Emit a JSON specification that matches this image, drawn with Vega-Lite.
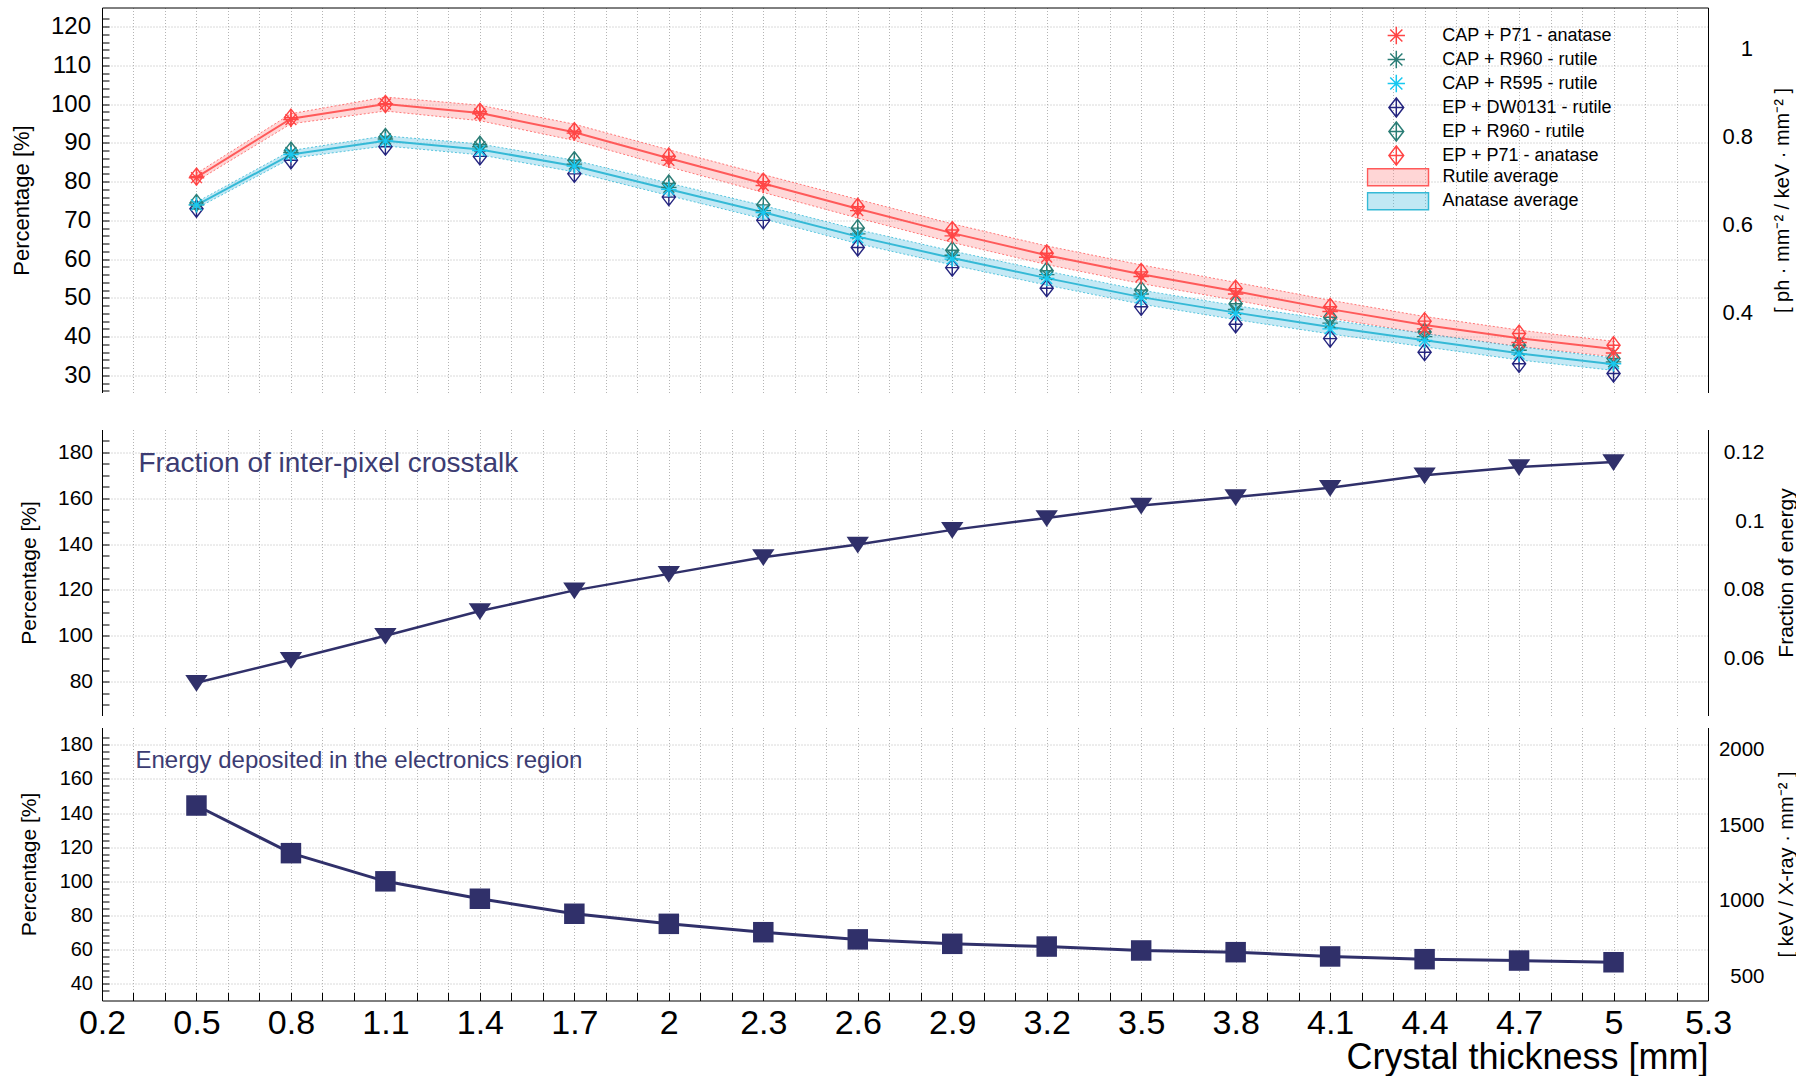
{
  "$schema": "https://vega.github.io/schema/vega-lite/v6.json",
  "background": "white",
  "padding": {"left": 10, "top": 6.5, "right": 0, "bottom": 0},
  "spacing": 12,
  "config": {
    "view": {"stroke": null},
    "font": "Liberation Sans",
    "axis": {"labelFont": "Liberation Sans", "titleFont": "Liberation Sans", "titleFontWeight": "normal", "labelColor": "black", "titleColor": "black", "domainColor": "black", "tickColor": "black", "gridColor": "#b4b4b4", "gridDash": [1, 2], "gridWidth": 1, "labelOverlap": false, "labelBound": false, "labelFlush": false},
    "legend": {"labelFont": "Liberation Sans"}
  },
  "datasets": {
    "t1": [{"label": "Effective Luminescence efficiency"}],
    "t2": [{"label": "Fraction of inter-pixel crosstalk"}],
    "t3": [{"label": "Energy deposited in the electronics region"}],
    "lum": [
      {"x": 0.5, "s": "EP + DW0131 - rutile", "v": 73}, {"x": 0.8, "s": "EP + DW0131 - rutile", "v": 85.5}, {"x": 1.1, "s": "EP + DW0131 - rutile", "v": 89}, {"x": 1.4, "s": "EP + DW0131 - rutile", "v": 86.5}, {"x": 1.7, "s": "EP + DW0131 - rutile", "v": 82}, {"x": 2.0, "s": "EP + DW0131 - rutile", "v": 76}, {"x": 2.3, "s": "EP + DW0131 - rutile", "v": 70}, {"x": 2.6, "s": "EP + DW0131 - rutile", "v": 63}, {"x": 2.9, "s": "EP + DW0131 - rutile", "v": 57.8}, {"x": 3.2, "s": "EP + DW0131 - rutile", "v": 52.5}, {"x": 3.5, "s": "EP + DW0131 - rutile", "v": 47.7}, {"x": 3.8, "s": "EP + DW0131 - rutile", "v": 43.2}, {"x": 4.1, "s": "EP + DW0131 - rutile", "v": 39.5}, {"x": 4.4, "s": "EP + DW0131 - rutile", "v": 36}, {"x": 4.7, "s": "EP + DW0131 - rutile", "v": 33}, {"x": 5.0, "s": "EP + DW0131 - rutile", "v": 30.5},
      {"x": 0.5, "s": "EP + R960 - rutile", "v": 74.5}, {"x": 0.8, "s": "EP + R960 - rutile", "v": 88}, {"x": 1.1, "s": "EP + R960 - rutile", "v": 91.5}, {"x": 1.4, "s": "EP + R960 - rutile", "v": 89.5}, {"x": 1.7, "s": "EP + R960 - rutile", "v": 85.5}, {"x": 2.0, "s": "EP + R960 - rutile", "v": 79.5}, {"x": 2.3, "s": "EP + R960 - rutile", "v": 74}, {"x": 2.6, "s": "EP + R960 - rutile", "v": 68}, {"x": 2.9, "s": "EP + R960 - rutile", "v": 62.3}, {"x": 3.2, "s": "EP + R960 - rutile", "v": 57}, {"x": 3.5, "s": "EP + R960 - rutile", "v": 52}, {"x": 3.8, "s": "EP + R960 - rutile", "v": 48.5}, {"x": 4.1, "s": "EP + R960 - rutile", "v": 45}, {"x": 4.4, "s": "EP + R960 - rutile", "v": 41.2}, {"x": 4.7, "s": "EP + R960 - rutile", "v": 37.8}, {"x": 5.0, "s": "EP + R960 - rutile", "v": 34.4},
      {"x": 0.5, "s": "EP + P71 - anatase", "v": 81.3}, {"x": 0.8, "s": "EP + P71 - anatase", "v": 96.5}, {"x": 1.1, "s": "EP + P71 - anatase", "v": 100}, {"x": 1.4, "s": "EP + P71 - anatase", "v": 98}, {"x": 1.7, "s": "EP + P71 - anatase", "v": 93}, {"x": 2.0, "s": "EP + P71 - anatase", "v": 86.5}, {"x": 2.3, "s": "EP + P71 - anatase", "v": 80}, {"x": 2.6, "s": "EP + P71 - anatase", "v": 73.5}, {"x": 2.9, "s": "EP + P71 - anatase", "v": 67.5}, {"x": 3.2, "s": "EP + P71 - anatase", "v": 61.5}, {"x": 3.5, "s": "EP + P71 - anatase", "v": 56.7}, {"x": 3.8, "s": "EP + P71 - anatase", "v": 52.4}, {"x": 4.1, "s": "EP + P71 - anatase", "v": 47.7}, {"x": 4.4, "s": "EP + P71 - anatase", "v": 44}, {"x": 4.7, "s": "EP + P71 - anatase", "v": 40.8}, {"x": 5.0, "s": "EP + P71 - anatase", "v": 37.8},
      {"x": 0.5, "s": "CAP + R960 - rutile", "v": 74}, {"x": 0.8, "s": "CAP + R960 - rutile", "v": 87.5}, {"x": 1.1, "s": "CAP + R960 - rutile", "v": 91}, {"x": 1.4, "s": "CAP + R960 - rutile", "v": 89}, {"x": 1.7, "s": "CAP + R960 - rutile", "v": 84.5}, {"x": 2.0, "s": "CAP + R960 - rutile", "v": 78.5}, {"x": 2.3, "s": "CAP + R960 - rutile", "v": 72.5}, {"x": 2.6, "s": "CAP + R960 - rutile", "v": 66.5}, {"x": 2.9, "s": "CAP + R960 - rutile", "v": 61}, {"x": 3.2, "s": "CAP + R960 - rutile", "v": 56}, {"x": 3.5, "s": "CAP + R960 - rutile", "v": 51}, {"x": 3.8, "s": "CAP + R960 - rutile", "v": 47}, {"x": 4.1, "s": "CAP + R960 - rutile", "v": 43.5}, {"x": 4.4, "s": "CAP + R960 - rutile", "v": 40}, {"x": 4.7, "s": "CAP + R960 - rutile", "v": 36.5}, {"x": 5.0, "s": "CAP + R960 - rutile", "v": 33.5},
      {"x": 0.5, "s": "CAP + R595 - rutile", "v": 74}, {"x": 0.8, "s": "CAP + R595 - rutile", "v": 87}, {"x": 1.1, "s": "CAP + R595 - rutile", "v": 90.5}, {"x": 1.4, "s": "CAP + R595 - rutile", "v": 88}, {"x": 1.7, "s": "CAP + R595 - rutile", "v": 84}, {"x": 2.0, "s": "CAP + R595 - rutile", "v": 78}, {"x": 2.3, "s": "CAP + R595 - rutile", "v": 72}, {"x": 2.6, "s": "CAP + R595 - rutile", "v": 65.5}, {"x": 2.9, "s": "CAP + R595 - rutile", "v": 60}, {"x": 3.2, "s": "CAP + R595 - rutile", "v": 55}, {"x": 3.5, "s": "CAP + R595 - rutile", "v": 50}, {"x": 3.8, "s": "CAP + R595 - rutile", "v": 46}, {"x": 4.1, "s": "CAP + R595 - rutile", "v": 42}, {"x": 4.4, "s": "CAP + R595 - rutile", "v": 39}, {"x": 4.7, "s": "CAP + R595 - rutile", "v": 35.5}, {"x": 5.0, "s": "CAP + R595 - rutile", "v": 33},
      {"x": 0.5, "s": "CAP + P71 - anatase", "v": 81}, {"x": 0.8, "s": "CAP + P71 - anatase", "v": 96}, {"x": 1.1, "s": "CAP + P71 - anatase", "v": 100}, {"x": 1.4, "s": "CAP + P71 - anatase", "v": 97.5}, {"x": 1.7, "s": "CAP + P71 - anatase", "v": 92.5}, {"x": 2.0, "s": "CAP + P71 - anatase", "v": 85.5}, {"x": 2.3, "s": "CAP + P71 - anatase", "v": 79}, {"x": 2.6, "s": "CAP + P71 - anatase", "v": 72.5}, {"x": 2.9, "s": "CAP + P71 - anatase", "v": 66}, {"x": 3.2, "s": "CAP + P71 - anatase", "v": 60.5}, {"x": 3.5, "s": "CAP + P71 - anatase", "v": 55.5}, {"x": 3.8, "s": "CAP + P71 - anatase", "v": 51}, {"x": 4.1, "s": "CAP + P71 - anatase", "v": 46.5}, {"x": 4.4, "s": "CAP + P71 - anatase", "v": 42}, {"x": 4.7, "s": "CAP + P71 - anatase", "v": 38.5}, {"x": 5.0, "s": "CAP + P71 - anatase", "v": 35.8}
    ],
    "band": [
      {"x": 0.5, "band": "Rutile average", "avg": 81.1, "lo": 80.1, "hi": 82.1}, {"x": 0.8, "band": "Rutile average", "avg": 96.2, "lo": 94.9, "hi": 97.5}, {"x": 1.1, "band": "Rutile average", "avg": 100, "lo": 98.2, "hi": 101.8}, {"x": 1.4, "band": "Rutile average", "avg": 97.7, "lo": 95.7, "hi": 99.7}, {"x": 1.7, "band": "Rutile average", "avg": 92.7, "lo": 90.6, "hi": 94.8}, {"x": 2.0, "band": "Rutile average", "avg": 86, "lo": 83.8, "hi": 88.2}, {"x": 2.3, "band": "Rutile average", "avg": 79.5, "lo": 77.2, "hi": 81.8}, {"x": 2.6, "band": "Rutile average", "avg": 73, "lo": 70.6, "hi": 75.4}, {"x": 2.9, "band": "Rutile average", "avg": 66.7, "lo": 64.3, "hi": 69.1}, {"x": 3.2, "band": "Rutile average", "avg": 61, "lo": 58.6, "hi": 63.4}, {"x": 3.5, "band": "Rutile average", "avg": 56.1, "lo": 53.7, "hi": 58.5}, {"x": 3.8, "band": "Rutile average", "avg": 51.7, "lo": 49.4, "hi": 54.0}, {"x": 4.1, "band": "Rutile average", "avg": 47.1, "lo": 44.8, "hi": 49.4}, {"x": 4.4, "band": "Rutile average", "avg": 43, "lo": 40.8, "hi": 45.2}, {"x": 4.7, "band": "Rutile average", "avg": 39.6, "lo": 37.5, "hi": 41.7}, {"x": 5.0, "band": "Rutile average", "avg": 36.8, "lo": 34.8, "hi": 38.8},
      {"x": 0.5, "band": "Anatase average", "avg": 73.9, "lo": 73.1, "hi": 74.7}, {"x": 0.8, "band": "Anatase average", "avg": 87, "lo": 86, "hi": 88}, {"x": 1.1, "band": "Anatase average", "avg": 90.5, "lo": 89.2, "hi": 91.8}, {"x": 1.4, "band": "Anatase average", "avg": 88.3, "lo": 86.9, "hi": 89.7}, {"x": 1.7, "band": "Anatase average", "avg": 84, "lo": 82.5, "hi": 85.5}, {"x": 2.0, "band": "Anatase average", "avg": 78, "lo": 76.4, "hi": 79.6}, {"x": 2.3, "band": "Anatase average", "avg": 72.1, "lo": 70.4, "hi": 73.8}, {"x": 2.6, "band": "Anatase average", "avg": 65.8, "lo": 64, "hi": 67.6}, {"x": 2.9, "band": "Anatase average", "avg": 60.3, "lo": 58.5, "hi": 62.1}, {"x": 3.2, "band": "Anatase average", "avg": 55.1, "lo": 53.3, "hi": 56.9}, {"x": 3.5, "band": "Anatase average", "avg": 50.2, "lo": 48.4, "hi": 52}, {"x": 3.8, "band": "Anatase average", "avg": 46.2, "lo": 44.4, "hi": 48}, {"x": 4.1, "band": "Anatase average", "avg": 42.5, "lo": 40.7, "hi": 44.3}, {"x": 4.4, "band": "Anatase average", "avg": 39.1, "lo": 37.4, "hi": 40.8}, {"x": 4.7, "band": "Anatase average", "avg": 35.7, "lo": 34, "hi": 37.4}, {"x": 5.0, "band": "Anatase average", "avg": 32.9, "lo": 31.3, "hi": 34.5}
    ],
    "xt": [
      {"x": 0.5, "pct": 79.5}, {"x": 0.8, "pct": 89.5}, {"x": 1.1, "pct": 100}, {"x": 1.4, "pct": 110.8}, {"x": 1.7, "pct": 119.8}, {"x": 2.0, "pct": 127}, {"x": 2.3, "pct": 134.3}, {"x": 2.6, "pct": 139.8}, {"x": 2.9, "pct": 146.2}, {"x": 3.2, "pct": 151.4}, {"x": 3.5, "pct": 156.8}, {"x": 3.8, "pct": 160.5}, {"x": 4.1, "pct": 164.6}, {"x": 4.4, "pct": 170}, {"x": 4.7, "pct": 173.6}, {"x": 5.0, "pct": 175.8}
    ],
    "edep": [
      {"x": 0.5, "pct": 144.4}, {"x": 0.8, "pct": 116.5}, {"x": 1.1, "pct": 100}, {"x": 1.4, "pct": 89.8}, {"x": 1.7, "pct": 81}, {"x": 2.0, "pct": 75.1}, {"x": 2.3, "pct": 70.2}, {"x": 2.6, "pct": 66}, {"x": 2.9, "pct": 63.4}, {"x": 3.2, "pct": 61.8}, {"x": 3.5, "pct": 59.5}, {"x": 3.8, "pct": 58.5}, {"x": 4.1, "pct": 56}, {"x": 4.4, "pct": 54.4}, {"x": 4.7, "pct": 53.6}, {"x": 5.0, "pct": 52.6}
    ]
  },
  "vconcat": [
    {
      "width": 1606,
      "height": 385,
      "encoding": {
        "x": {"field": "x", "type": "quantitative", "scale": {"domain": [0.2, 5.3], "nice": false, "zero": false},
          "axis": {"values": [0.2,0.3,0.4,0.5,0.6,0.7,0.8,0.9,1,1.1,1.2,1.3,1.4,1.5,1.6,1.7,1.8,1.9,2,2.1,2.2,2.3,2.4,2.5,2.6,2.7,2.8,2.9,3,3.1,3.2,3.3,3.4,3.5,3.6,3.7,3.8,3.9,4,4.1,4.2,4.3,4.4,4.5,4.6,4.7,4.8,4.9,5,5.1,5.2,5.3], "grid": true, "ticks": false, "domain": false, "labels": true, "labelExpr": "'0'", "labelColor": "transparent", "labelFontSize": 20, "labelPadding": 5, "title": null}}
      },
      "layer": [
        {
          "encoding": {
            "y": {"field": "v", "type": "quantitative", "scale": {"domain": [25.6, 124.9], "nice": false, "zero": false},
              "axis": {"values": [26,28,30,32,34,36,38,40,42,44,46,48,50,52,54,56,58,60,62,64,66,68,70,72,74,76,78,80,82,84,86,88,90,92,94,96,98,100,102,104,106,108,110,112,114,116,118,120,122], "format": "d", "labelExpr": "datum.value % 10 == 0 ? datum.label : ''", "labelFontSize": 24, "labelPadding": 18.5, "tickSize": -7, "grid": true, "gridOpacity": {"condition": {"test": "datum.value % 10 != 0", "value": 0}, "value": 1}, "title": "Percentage [%]", "titleFontSize": 22, "titleX": -80.5, "titleBaseline": "middle", "titleAngle": -90}}
          },
          "layer": [
            {
              "data": {"name": "band"},
              "mark": {"type": "area", "fillOpacity": 0.33},
              "encoding": {
                "y": {"field": "lo"},
                "y2": {"field": "hi"},
                "fill": {"field": "band", "type": "nominal", "scale": {"domain": ["Rutile average", "Anatase average"], "range": ["#ff8a8a", "#4dbde0"]},
                  "legend": {"orient": "none", "legendX": 1264.5, "legendY": 157.7, "title": null, "padding": 0, "labelFontSize": 18, "labelColor": "black", "labelLimit": 400, "labelOffset": 13, "symbolType": "M-1,-0.28H1V0.28H-1Z", "symbolSize": 3721, "clipHeight": 24, "rowPadding": 0, "symbolStrokeWidth": 1.5,
                    "encode": {"symbols": {"update": {"stroke": {"scale": "fill", "field": "value"}, "fillOpacity": {"value": 0.35}}}}}}
              }
            },
            {
              "data": {"name": "band"},
              "mark": {"type": "line", "strokeWidth": 1, "strokeDash": [2, 2], "opacity": 0.8},
              "encoding": {
                "y": {"field": "lo"},
                "color": {"field": "band", "type": "nominal", "scale": {"domain": ["Rutile average", "Anatase average"], "range": ["#ff5a5a", "#35b9d6"]}, "legend": null}
              }
            },
            {
              "data": {"name": "band"},
              "mark": {"type": "line", "strokeWidth": 1, "strokeDash": [2, 2], "opacity": 0.8},
              "encoding": {
                "y": {"field": "hi"},
                "color": {"field": "band", "type": "nominal", "scale": {"domain": ["Rutile average", "Anatase average"], "range": ["#ff5a5a", "#35b9d6"]}, "legend": null}
              }
            },
            {
              "data": {"name": "band"},
              "mark": {"type": "line", "strokeWidth": 2},
              "encoding": {
                "y": {"field": "avg"},
                "color": {"field": "band", "type": "nominal", "scale": {"domain": ["Rutile average", "Anatase average"], "range": ["#ff5a5a", "#35b9d6"]}, "legend": null}
              }
            },
            {
              "data": {"name": "lum"},
              "mark": {"type": "point", "filled": false, "size": 240, "strokeWidth": 1.4, "opacity": 1},
              "encoding": {
                "stroke": {"field": "s", "type": "nominal",
                  "scale": {"domain": ["CAP + P71 - anatase", "CAP + R960 - rutile", "CAP + R595 - rutile", "EP + DW0131 - rutile", "EP + R960 - rutile", "EP + P71 - anatase"], "range": ["#ff4545", "#2b7d76", "#18c8f0", "#25257f", "#2b7d76", "#ff4545"]},
                  "legend": {"orient": "none", "legendX": 1284.8, "legendY": 16.2, "title": null, "padding": 0, "labelFontSize": 18, "labelColor": "black", "labelLimit": 400, "labelOffset": 36.4, "symbolSize": 300, "symbolStrokeWidth": 1.5, "clipHeight": 23.6, "rowPadding": 0}},
                "shape": {"field": "s", "type": "nominal",
                  "scale": {"domain": ["CAP + P71 - anatase", "CAP + R960 - rutile", "CAP + R595 - rutile", "EP + DW0131 - rutile", "EP + R960 - rutile", "EP + P71 - anatase"], "range": ["M-1,0L1,0M0,-1L0,1M-0.7,-0.7L0.7,0.7M-0.7,0.7L0.7,-0.7", "M-1,0L1,0M0,-1L0,1M-0.7,-0.7L0.7,0.7M-0.7,0.7L0.7,-0.7", "M-1,0L1,0M0,-1L0,1M-0.7,-0.7L0.7,0.7M-0.7,0.7L0.7,-0.7", "M0,-1.1L0.85,0L0,1.1L-0.85,0ZM0,-1.1L0,1.1M-0.85,0L0.85,0", "M0,-1.1L0.85,0L0,1.1L-0.85,0ZM0,-1.1L0,1.1M-0.85,0L0.85,0", "M0,-1.1L0.85,0L0,1.1L-0.85,0ZM0,-1.1L0,1.1M-0.85,0L0.85,0"]},
                  "legend": {"orient": "none", "legendX": 1284.8, "legendY": 16.2, "title": null, "padding": 0, "labelFontSize": 18, "labelColor": "black", "labelLimit": 400, "labelOffset": 36.4, "symbolSize": 300, "symbolStrokeWidth": 1.5, "clipHeight": 23.6, "rowPadding": 0}}
              }
            },
            {
              "data": {"name": "t1"},
              "mark": {"type": "text", "align": "left", "baseline": "middle", "fontSize": 26.5, "color": "#3c3c72", "font": "Liberation Sans"},
              "encoding": {
                "x": {"datum": 0.351, "type": "quantitative"},
                "y": {"datum": 113.3, "type": "quantitative"},
                "text": {"field": "label"}
              }
            }
          ]
        },
        {
          "data": {"name": "t1"},
          "mark": {"type": "rule", "opacity": 0},
          "encoding": {
            "x": {"datum": 1, "type": "quantitative", "axis": null},
            "y": {"datum": 0.5, "type": "quantitative", "scale": {"domain": [0.217, 1.094], "nice": false, "zero": false},
              "axis": {"orient": "right", "values": [0.4, 0.6, 0.8, 1], "format": ".1~f", "ticks": false, "grid": false, "labelFontSize": 22, "labelAlign": "right", "labelPadding": 44.5, "title": "[ ph · mm⁻² / keV · mm⁻² ]", "titleFontSize": 20, "titleX": 74, "titleBaseline": "middle", "titleAngle": -90}}
          }
        },
        {
          "data": {"name": "t1"},
          "mark": {"type": "rule", "opacity": 0},
          "encoding": {
            "x": {"datum": 1, "type": "quantitative", "scale": {"domain": [0.2, 5.3], "nice": false, "zero": false},
              "axis": {"orient": "top", "labels": false, "ticks": false, "grid": false, "domain": true, "title": null}}
          }
        }
      ],
      "resolve": {"scale": {"y": "independent"}, "axis": {"x": "independent"}}
    },
    {
      "width": 1606,
      "height": 286,
      "title": {"text": "Fraction of inter-pixel crosstalk", "orient": "top", "anchor": "start", "frame": "group", "offset": -33.5, "dx": 36.5, "dy": 29, "baseline": "middle", "align": "left", "fontSize": 28, "font": "Liberation Sans", "fontWeight": "normal", "color": "#3c3c72"},
      "encoding": {
        "x": {"field": "x", "type": "quantitative", "scale": {"domain": [0.2, 5.3], "nice": false, "zero": false},
          "axis": {"values": [0.2,0.3,0.4,0.5,0.6,0.7,0.8,0.9,1,1.1,1.2,1.3,1.4,1.5,1.6,1.7,1.8,1.9,2,2.1,2.2,2.3,2.4,2.5,2.6,2.7,2.8,2.9,3,3.1,3.2,3.3,3.4,3.5,3.6,3.7,3.8,3.9,4,4.1,4.2,4.3,4.4,4.5,4.6,4.7,4.8,4.9,5,5.1,5.2,5.3], "grid": true, "ticks": false, "domain": false, "labels": false, "title": null}}
      },
      "layer": [
        {
          "encoding": {
            "y": {"field": "pct", "type": "quantitative", "scale": {"domain": [65.2, 190], "nice": false, "zero": false},
              "axis": {"values": [70,75,80,85,90,95,100,105,110,115,120,125,130,135,140,145,150,155,160,165,170,175,180,185], "format": "d", "labelExpr": "datum.value % 20 == 0 ? datum.label : ''", "labelFontSize": 21, "labelPadding": 16.5, "tickSize": -7, "grid": true, "gridOpacity": {"condition": {"test": "datum.value % 20 != 0", "value": 0}, "value": 1}, "title": "Percentage [%]", "titleFontSize": 21, "titleX": -72.5, "titleBaseline": "middle", "titleAngle": -90}}
          },
          "layer": [
            {"data": {"name": "xt"}, "mark": {"type": "line", "color": "#30306a", "strokeWidth": 2.5}},
            {"data": {"name": "xt"}, "mark": {"type": "point", "filled": true, "color": "#30306a", "opacity": 1, "size": 500, "shape": "M-1,-0.7L1,-0.7L0,0.8Z"}}
          ]
        },
        {
          "data": {"name": "t2"},
          "mark": {"type": "rule", "opacity": 0},
          "encoding": {
            "x": {"datum": 1, "type": "quantitative", "axis": null},
            "y": {"datum": 0.08, "type": "quantitative", "scale": {"domain": [0.04333, 0.12667], "nice": false, "zero": false},
              "axis": {"orient": "right", "values": [0.06, 0.08, 0.1, 0.12], "format": ".2~f", "ticks": false, "grid": false, "labelFontSize": 21, "labelAlign": "right", "labelPadding": 56, "title": "Fraction of energy", "titleFontSize": 21, "titleX": 78, "titleBaseline": "middle", "titleAngle": -90}}
          }
        }
      ],
      "resolve": {"scale": {"y": "independent"}, "axis": {"x": "independent"}}
    },
    {
      "width": 1606,
      "height": 273,
      "title": {"text": "Energy deposited in the electronics region", "orient": "top", "anchor": "start", "frame": "group", "offset": -32.5, "dx": 33.5, "dy": 25, "baseline": "middle", "align": "left", "fontSize": 24, "font": "Liberation Sans", "fontWeight": "normal", "color": "#3c3c72"},
      "encoding": {
        "x": {"field": "x", "type": "quantitative", "scale": {"domain": [0.2, 5.3], "nice": false, "zero": false},
          "axis": {"values": [0.2,0.3,0.4,0.5,0.6,0.7,0.8,0.9,1,1.1,1.2,1.3,1.4,1.5,1.6,1.7,1.8,1.9,2,2.1,2.2,2.3,2.4,2.5,2.6,2.7,2.8,2.9,3,3.1,3.2,3.3,3.4,3.5,3.6,3.7,3.8,3.9,4,4.1,4.2,4.3,4.4,4.5,4.6,4.7,4.8,4.9,5,5.1,5.2,5.3], "format": ".1~f", "grid": true, "ticks": true, "tickSize": -8, "domain": true, "labels": true, "labelExpr": "(round(datum.value*10) - 2) % 3 == 0 ? datum.label : ''", "labelFontSize": 34, "labelBaseline": "alphabetic", "labelPadding": 40.5, "title": "Crystal thickness [mm]", "titleFontSize": 36, "titleAnchor": "end", "titleAlign": "right", "titleBaseline": "alphabetic", "titleX": 1606, "titleY": 68}}
      },
      "layer": [
        {
          "encoding": {
            "y": {"field": "pct", "type": "quantitative", "scale": {"domain": [30.2, 190.1], "nice": false, "zero": false},
              "axis": {"values": [36,40,44,48,52,56,60,64,68,72,76,80,84,88,92,96,100,104,108,112,116,120,124,128,132,136,140,144,148,152,156,160,164,168,172,176,180,184], "format": "d", "labelExpr": "datum.value % 20 == 0 ? datum.label : ''", "labelFontSize": 20, "labelPadding": 16.5, "tickSize": -7, "grid": true, "gridOpacity": {"condition": {"test": "datum.value % 20 != 0", "value": 0}, "value": 1}, "title": "Percentage [%]", "titleFontSize": 21, "titleX": -72.5, "titleBaseline": "middle", "titleAngle": -90}}
          },
          "layer": [
            {"data": {"name": "edep"}, "mark": {"type": "line", "color": "#30306a", "strokeWidth": 3}},
            {"data": {"name": "edep"}, "mark": {"type": "point", "filled": true, "color": "#30306a", "opacity": 1, "size": 420, "shape": "square"}}
          ]
        },
        {
          "data": {"name": "t3"},
          "mark": {"type": "rule", "opacity": 0},
          "encoding": {
            "x": {"datum": 1, "type": "quantitative", "axis": null},
            "y": {"datum": 1000, "type": "quantitative", "scale": {"domain": [339, 2145], "nice": false, "zero": false},
              "axis": {"orient": "right", "values": [500, 1000, 1500, 2000], "format": "d", "ticks": false, "grid": false, "labelFontSize": 20.5, "labelAlign": "right", "labelPadding": 56, "title": "[ keV / X-ray · mm⁻² ]", "titleFontSize": 20, "titleX": 78, "titleBaseline": "middle", "titleAngle": -90}}
          }
        }
      ],
      "resolve": {"scale": {"y": "independent"}, "axis": {"x": "independent"}}
    }
  ]
}
